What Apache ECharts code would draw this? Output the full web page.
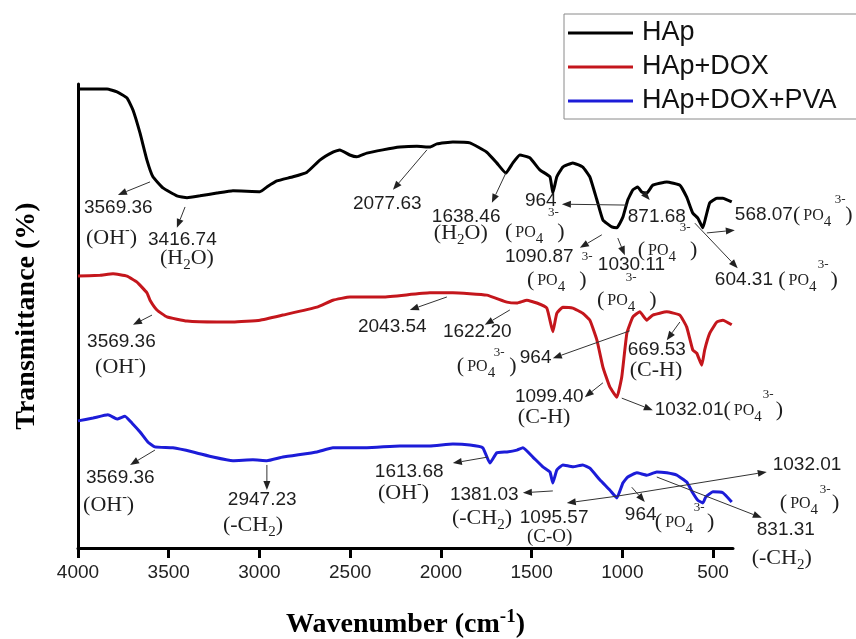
<!DOCTYPE html>
<html>
<head>
<meta charset="utf-8">
<script src="https://cdn.jsdelivr.net/npm/echarts@6/dist/echarts.min.js"></script>
<style>
  html, body { margin: 0; padding: 0; background: #ffffff; }
  #chart { width: 856px; height: 639px; }
</style>
</head>
<body>
<div id="chart"></div>
<script>
const SANS = '"Liberation Sans", Arial, sans-serif';
const SERIF = '"Liberation Serif", "Times New Roman", serif';

// FTIR spectra: [wavenumber (cm-1), transmittance (%)] — curves are offset vertically
const seriesNames = ['HAp', 'HAp+DOX', 'HAp+DOX+PVA'];
const seriesColors = ['#000000', '#c4161c', '#1c1cd8'];
const xTicks = [4000, 3500, 3000, 2500, 2000, 1500, 1000, 500];

const hap = [
  [4000,98.9],[3840,98.9],[3785,98.3],[3730,97.0],[3697,94.4],[3658,89.4],[3620,83.6],[3587,80.0],
  [3532,77.6],[3455,75.9],[3399,75.5],[3328,75.9],[3234,76.5],[3146,77.0],[2997,76.8],[2959,77.8],
  [2904,79.1],[2815,80.0],[2738,81.0],[2667,83.6],[2595,85.3],[2557,85.8],[2502,84.7],[2463,84.3],
  [2408,85.1],[2320,85.8],[2226,86.4],[2132,86.6],[2061,86.4],[2022,87.1],[1934,87.5],[1840,87.3],
  [1747,85.3],[1692,83.0],[1642,80.8],[1603,83.0],[1565,84.7],[1510,84.1],[1455,81.5],[1399,80.0],
  [1383,76.5],[1361,80.0],[1328,82.1],[1273,83.0],[1218,82.1],[1179,80.0],[1140,75.0],[1107,70.7],
  [1058,69.2],[1030,69.0],[997,71.3],[970,75.0],[942,77.2],[915,77.8],[893,76.7],[865,76.5],
  [832,78.2],[755,78.9],[683,78.2],[645,75.6],[612,72.2],[584,71.1],[556,69.0],[540,71.3],
  [518,74.4],[479,75.4],[446,75.4],[397,74.6]
];

const hapDox = [
  [4000,58.6],[3879,58.8],[3807,59.1],[3730,58.6],[3675,57.3],[3620,55.0],[3603,53.4],[3565,51.3],
  [3510,49.8],[3399,48.9],[3234,48.7],[3146,48.7],[2997,49.1],[2871,50.2],[2683,51.9],[2595,53.4],
  [2501,54.1],[2320,54.1],[2061,55.0],[1934,55.0],[1747,54.5],[1636,53.0],[1581,52.8],[1526,53.4],
  [1471,52.8],[1416,51.7],[1383,46.6],[1361,50.6],[1328,51.9],[1273,51.7],[1218,50.6],[1179,49.1],
  [1140,44.8],[1107,39.0],[1069,34.7],[1030,32.5],[1003,36.9],[975,46.3],[942,49.8],[904,50.9],
  [865,49.1],[832,50.2],[755,50.9],[683,50.2],[645,47.6],[612,42.7],[590,42.0],[562,39.4],
  [546,42.7],[518,46.3],[479,48.7],[446,49.1],[397,48.1]
];

const hapDoxPva = [
  [4000,27.4],[3917,28.0],[3835,28.7],[3785,27.8],[3741,28.4],[3702,26.9],[3658,25.0],[3614,22.8],
  [3576,21.8],[3477,21.6],[3366,20.7],[3256,19.6],[3146,18.8],[3036,19.0],[2959,18.8],[2871,19.6],
  [2683,20.7],[2595,21.6],[2408,21.6],[2226,22.0],[2061,22.0],[1934,22.4],[1840,22.2],[1769,21.6],
  [1730,18.3],[1692,20.5],[1636,20.7],[1581,21.1],[1548,21.6],[1493,19.6],[1438,17.5],[1399,16.4],
  [1383,14.0],[1361,16.8],[1328,17.9],[1273,17.5],[1218,17.9],[1179,17.2],[1124,14.7],[1069,12.5],
  [1030,10.8],[997,14.0],[970,15.3],[920,16.2],[865,15.7],[810,16.4],[755,16.2],[700,15.7],
  [645,14.2],[612,11.9],[584,10.3],[556,9.7],[540,11.0],[501,12.1],[446,11.9],[397,9.9]
];

// Peak assignment text; "at" is the left-middle anchor of the first fragment, in data units
const PO4 = [['(', 's'], ['3', 'g'], ['PO', 'p'], ['4', 'b'], ['14', 'g'], [')', 's']];
const OHm = [['(OH', 's'], ['-', 'u'], [')', 's']];
const H2O = [['(H', 's'], ['2', 'b'], ['O)', 's']];
const CH2 = [['(-CH', 's'], ['2', 'b'], [')', 's']];
const CH = [['(C-H)', 's']];
const CO = [['(C-O)', 'c']];
const SUP3 = [['3-', 'v']];

const peakLabels = [
  // HAp
  { at: [3967, 73.3], parts: [['3569.36', 'n']] },
  { at: [3956, 66.8], parts: OHm },
  { at: [3614, 66.4], parts: [['3416.74', 'n']] },
  { at: [3548, 62.5], parts: H2O },
  { at: [2485, 74.1], parts: [['2077.63', 'n']] },
  { at: [2050, 71.3], parts: [['1638.46', 'n']] },
  { at: [2039, 67.9], parts: H2O },
  { at: [1537, 74.8], parts: [['964', 'n']] },
  { at: [1647, 68.1], parts: PO4 },
  { at: [1410, 72.2], parts: SUP3 },
  { at: [970, 71.3], parts: [['871.68', 'n']] },
  { at: [915, 64.2], parts: PO4 },
  { at: [683, 69.0], parts: SUP3 },
  { at: [380, 71.8], parts: [['568.07', 'n']].concat(PO4) },
  { at: [-171, 75.0], parts: SUP3 },
  { at: [490, 57.8], parts: [['604.31 ', 'n']].concat(PO4) },
  { at: [-77, 61.0], parts: SUP3 },
  { at: [1647, 62.7], parts: [['1090.87', 'n']] },
  { at: [1223, 62.7], parts: SUP3 },
  { at: [1526, 57.8], parts: PO4 },
  { at: [1135, 61.0], parts: [['1030.11', 'n']] },
  { at: [981, 58.2], parts: SUP3 },
  { at: [1140, 53.4], parts: PO4 },
  // HAp+DOX
  { at: [3950, 44.4], parts: [['3569.36', 'n']] },
  { at: [3906, 39.0], parts: OHm },
  { at: [2457, 47.6], parts: [['2043.54', 'n']] },
  { at: [1989, 46.6], parts: [['1622.20', 'n']] },
  { at: [1565, 40.9], parts: [['964', 'n']] },
  { at: [1912, 39.2], parts: PO4 },
  { at: [1708, 42.2], parts: SUP3 },
  { at: [970, 42.7], parts: [['669.53', 'n']] },
  { at: [959, 38.4], parts: CH },
  { at: [1592, 32.5], parts: [['1099.40', 'n']] },
  { at: [1576, 28.2], parts: CH },
  { at: [821, 29.7], parts: [['1032.01', 'n']].concat(PO4) },
  { at: [226, 33.0], parts: SUP3 },
  // HAp+DOX+PVA
  { at: [3956, 15.1], parts: [['3569.36', 'n']] },
  { at: [3972, 9.3], parts: OHm },
  { at: [3174, 10.3], parts: [['2947.23', 'n']] },
  { at: [3201, 5.0], parts: CH2 },
  { at: [2364, 16.4], parts: [['1613.68', 'n']] },
  { at: [2347, 11.9], parts: OHm },
  { at: [1950, 11.4], parts: [['1381.03', 'n']] },
  { at: [1939, 6.5], parts: CH2 },
  { at: [1565, 6.5], parts: [['1095.57', 'n']] },
  { at: [1526, 2.4], parts: CO },
  { at: [986, 7.1], parts: [['964', 'n']] },
  { at: [821, 5.6], parts: PO4 },
  { at: [606, 8.8], parts: SUP3 },
  { at: [171, 17.9], parts: [['1032.01', 'n']] },
  { at: [132, 9.7], parts: PO4 },
  { at: [-88, 12.5], parts: SUP3 },
  { at: [259, 3.9], parts: [['831.31', 'n']] },
  { at: [287, -2.2], parts: CH2 }
];

// Pointer arrows [from, to] in data units; the head sits at "to"
const peakArrows = [
  [[3603, 78.9], [3780, 76.1]],
  [[3410, 73.5], [3455, 69.0]],
  [[2077, 85.8], [2264, 77.2]],
  [[1642, 80.8], [1719, 74.4]],
  [[970, 73.9], [1333, 74.1]],
  [[887, 76.7], [849, 75.0]],
  [[534, 67.9], [380, 68.5]],
  [[600, 70.0], [364, 60.3]],
  [[1113, 67.5], [1234, 64.7]],
  [[1025, 66.8], [986, 63.1]],
  [[3592, 50.2], [3697, 48.1]],
  [[1967, 54.1], [2171, 51.3]],
  [[1620, 51.3], [1758, 48.1]],
  [[959, 46.8], [1383, 40.9]],
  [[683, 48.7], [755, 44.8]],
  [[1107, 35.6], [1207, 32.5]],
  [[1003, 32.3], [832, 29.7]],
  [[3576, 21.1], [3713, 17.9]],
  [[2959, 17.9], [2959, 12.5]],
  [[1741, 19.6], [1934, 18.3]],
  [[1383, 12.3], [1548, 11.9]],
  [[1025, 11.2], [1306, 9.7]],
  [[948, 13.1], [876, 9.9]],
  [[1025, 11.2], [204, 16.4]],
  [[810, 15.3], [231, 6.5]]
];

// Fragment styles: n number, s serif, c small serif, p "PO", b subscript, u/v superscript, g gap (px)
const fragStyle = {
  n: { size: 19, family: SANS, dy: 0 },
  s: { size: 22, family: SERIF, dy: 0 },
  c: { size: 19, family: SERIF, dy: 0 },
  p: { size: 16, family: SERIF, dy: 1 },
  b: { size: 15, family: SERIF, dy: 7 },
  u: { size: 14, family: SERIF, dy: -8 },
  v: { size: 13, family: SERIF, dy: 0 }
};

const chart = echarts.init(document.getElementById('chart'), null, { renderer: 'canvas' });

const lineSeries = [hap, hapDox, hapDoxPva].map((d, i) => ({
  name: seriesNames[i],
  type: 'line',
  data: d,
  showSymbol: false,
  symbol: 'none',
  smooth: 0.12,
  color: seriesColors[i],
  lineStyle: { color: seriesColors[i], width: 3 },
  emphasis: { disabled: true },
  z: 3
}));

chart.setOption({
  animation: false,
  backgroundColor: '#ffffff',
  grid: { left: 78, right: 123, top: 84, bottom: 91, outerBoundsMode: 'none', containLabel: false },
  legend: {
    data: seriesNames,
    orient: 'vertical',
    left: 564,
    top: 14,
    icon: 'rect',
    itemWidth: 65,
    itemHeight: 3,
    itemGap: 4,
    padding: [4, 30, 3, 4],
    borderColor: '#8a8a8a',
    borderWidth: 1,
    textStyle: { fontFamily: SANS, fontSize: 27, color: '#111', lineHeight: 30, padding: [0, 0, 0, 4] }
  },
  xAxis: {
    type: 'value',
    min: 390,
    max: 4000,
    inverse: true,
    name: '{t|Wavenumber (cm}{s|-1}{t|)}',
    nameLocation: 'middle',
    nameGap: 60,
    nameTextStyle: {
      rich: {
        t: { fontFamily: SERIF, fontWeight: 'bold', fontSize: 28, color: '#000' },
        s: { fontFamily: SERIF, fontWeight: 'bold', fontSize: 19, color: '#000', padding: [0, 0, 15, 0] }
      }
    },
    axisLine: { show: true, onZero: false, lineStyle: { color: '#000', width: 3 } },
    axisTick: { show: true, customValues: xTicks, length: 10, inside: false, lineStyle: { color: '#000', width: 3 } },
    axisLabel: {
      customValues: xTicks,
      margin: 15,
      fontFamily: SANS,
      fontSize: 19,
      color: '#222',
      formatter: (v) => String(v)
    },
    splitLine: { show: false }
  },
  yAxis: {
    type: 'value',
    min: 0,
    max: 100,
    name: 'Transmittance (%)',
    nameLocation: 'middle',
    nameGap: 37,
    nameTextStyle: { fontFamily: SERIF, fontWeight: 'bold', fontSize: 28, color: '#000' },
    axisLine: { show: true, lineStyle: { color: '#000', width: 3 } },
    axisTick: { show: false },
    axisLabel: { show: false },
    splitLine: { show: false }
  },
  series: lineSeries
});

// text measuring for laying out fragments side by side
const measureCtx = document.createElement('canvas').getContext('2d');
function textWidth(text, size, family) {
  measureCtx.font = size + 'px ' + family;
  return measureCtx.measureText(text).width;
}

const toPx = (p) => chart.convertToPixel({ gridIndex: 0 }, p);
const graphics = [];

peakLabels.forEach((lab) => {
  const [x0, y0] = toPx(lab.at);
  let x = x0;
  lab.parts.forEach(([txt, key]) => {
    if (key === 'g') { x += Number(txt); return; }
    const st = fragStyle[key];
    graphics.push({
      type: 'text',
      x: x,
      y: y0 + st.dy,
      silent: true,
      z: 10,
      style: {
        text: txt,
        fontSize: st.size,
        fontFamily: st.family,
        fill: '#1e1e1e',
        align: 'left',
        verticalAlign: 'middle'
      }
    });
    x += textWidth(txt, st.size, st.family);
  });
});

peakArrows.forEach(([from, to]) => {
  const [x1, y1] = toPx(from);
  const [x2, y2] = toPx(to);
  const dx = x2 - x1, dy = y2 - y1;
  const len = Math.hypot(dx, dy) || 1;
  const ux = dx / len, uy = dy / len;
  const headLen = 9, headHalf = 3.5;
  const bx = x2 - ux * headLen, by = y2 - uy * headLen;
  graphics.push({
    type: 'line', silent: true, z: 9,
    shape: { x1: x1, y1: y1, x2: bx, y2: by },
    style: { stroke: '#333', lineWidth: 1 }
  });
  graphics.push({
    type: 'polygon', silent: true, z: 9,
    shape: { points: [[x2, y2], [bx - uy * headHalf, by + ux * headHalf], [bx + uy * headHalf, by - ux * headHalf]] },
    style: { fill: '#222' }
  });
});

chart.setOption({ graphic: graphics });
</script>
</body>
</html>
